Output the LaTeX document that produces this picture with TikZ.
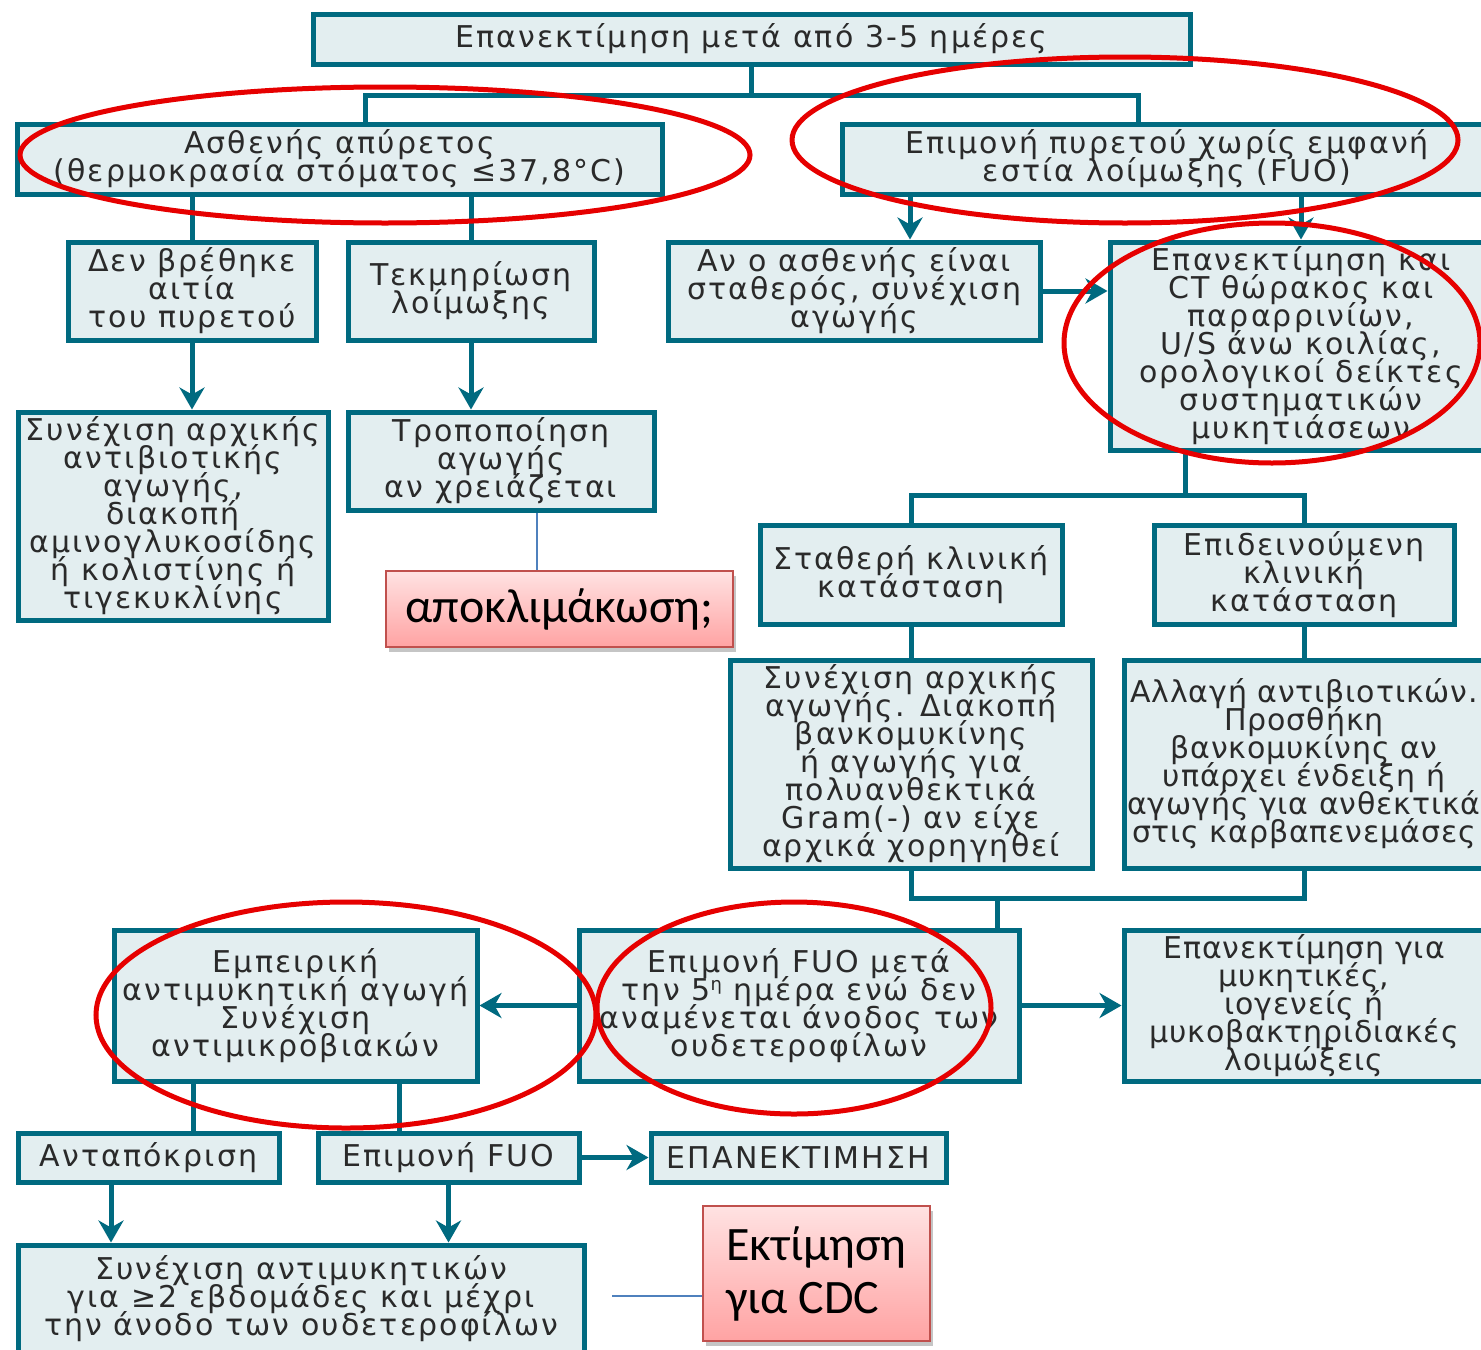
\documentclass[tikz,border=0pt]{standalone}
\usepackage{fontspec}
\setmainfont{DejaVu Sans}[LetterSpace=7]
\newfontfamily\calfont{Carlito}
\usetikzlibrary{arrows.meta,shadows}

\definecolor{tealline}{HTML}{006A80}
\definecolor{tealfill}{HTML}{E3EEF0}
\definecolor{inkgray}{HTML}{2A2A2A}
\definecolor{notetop}{HTML}{FFE2E2}
\definecolor{notebot}{HTML}{FFA3A3}
\definecolor{noteline}{HTML}{C0504D}
\definecolor{leaderblue}{HTML}{4F81BD}
\definecolor{ringred}{HTML}{E60000}

\newcommand\boxfont{\fontsize{15}{14}\selectfont\lineskiplimit=-\maxdimen}
\newcommand\snugfont{\boxfont\addfontfeatures{LetterSpace=3}}
\newcommand\notefont{\calfont\fontsize{24}{26.5}\selectfont}
% small raised ordinal mark
\newcommand\ordmark[1]{\raisebox{0.33em}{\fontsize{9}{9}\selectfont #1}}

\tikzset{
  % a box given by its left, top, right and bottom edges (in picture units)
  span/.style n args={4}{at={({(#1+#3)/2},{(#2+#4)/2})},
    minimum width={(#3-#1)*0.5pt}, minimum height={(#4-#2)*0.5pt}},
  tbox/.style={draw=tealline, fill=tealfill, line width=2.5pt, inner sep=0pt,
    align=center, text=inkgray, font=\boxfont},
  link/.style={draw=tealline, line width=2.5pt},
  arr/.style={link, -{Stealth[length=11pt,width=12.5pt,inset=3.5pt]}},
  note/.style={draw=noteline, line width=0.75pt, top color=notetop, bottom color=notebot,
    drop shadow={shadow xshift=1.5pt, shadow yshift=-2.5pt, fill=black!50, opacity=.45},
    inner sep=0pt, font=\notefont, text=black},
  leader/.style={draw=leaderblue, line width=0.6pt},
  ring/.style={draw=ringred, line width=2.5pt}
}

\begin{document}
\begin{tikzpicture}[x=0.5pt,y=-0.5pt]
\useasboundingbox (0,0) rectangle (1481,1349);
\fill[white] (0,0) rectangle (1481,1349);
\begin{scope}
\clip (0,0) rectangle (1481,1349);

% boxes of the flow chart
\node[tbox, span={313}{14}{1190}{64}] (top) {Επανεκτίμηση μετά από 3-5 ημέρες};
\node[tbox, span={17}{124}{662}{194}] (b3) {Ασθενής απύρετος\\(θερμοκρασία στόματος ≤37,8°C)};
\node[tbox, span={842}{124}{1492}{194}] (b4) {Επιμονή πυρετού χωρίς εμφανή\\εστία λοίμωξης (FUO)};
\node[tbox, span={68}{242}{316}{340}] (b5) {Δεν βρέθηκε\\αιτία\\του πυρετού};
\node[tbox, span={348}{242}{594}{340}] (b6) {Τεκμηρίωση\\λοίμωξης};
\node[tbox, span={668}{242}{1040}{340}] (b8) {Αν ο ασθενής είναι\\σταθερός, συνέχιση\\αγωγής};
\node[tbox, span={1110}{242}{1492}{450}] (b9) {Επανεκτίμηση και\\CT θώρακος και\\παραρρινίων,\\U/S άνω κοιλίας,\\ορολογικοί δείκτες\\συστηματικών\\μυκητιάσεων};
\node[tbox, span={18}{412}{328}{620}] (b13) {Συνέχιση αρχικής\\αντιβιοτικής\\αγωγής,\\διακοπή\\αμινογλυκοσίδης\\ή κολιστίνης ή\\τιγεκυκλίνης};
\node[tbox, span={348}{412}{654}{510}] (b14) {Τροποποίηση\\αγωγής\\αν χρειάζεται};
\node[tbox, span={760}{525}{1062}{624}] (b18) {Σταθερή κλινική\\κατάσταση};
\node[tbox, span={1154}{525}{1454}{624}] (b19) {Επιδεινούμενη\\κλινική\\κατάσταση};
\node[tbox, span={730}{660}{1092}{868}] (b21) {Συνέχιση αρχικής\\αγωγής. Διακοπή\\βανκομυκίνης\\ή αγωγής για\\πολυανθεκτικά\\Gram(-) αν είχε\\αρχικά χορηγηθεί};
\node[tbox, span={1124}{660}{1484}{868}, font=\snugfont] (b22) {Αλλαγή αντιβιοτικών.\\Προσθήκη\\βανκομυκίνης αν\\υπάρχει ένδειξη ή\\αγωγής για ανθεκτικά\\στις καρβαπενεμάσες};
\node[tbox, span={579}{930}{1019}{1081}] (b24) {Επιμονή FUO μετά\\την 5\ordmark{η} ημέρα ενώ δεν\\αναμένεται άνοδος των\\ουδετεροφίλων};
\node[tbox, span={114}{930}{477}{1081}] (b25) {Εμπειρική\\αντιμυκητική αγωγή\\Συνέχιση\\αντιμικροβιακών};
\node[tbox, span={1124}{930}{1484}{1081}, font=\snugfont] (b26) {Επανεκτίμηση για\\μυκητικές,\\ιογενείς ή\\μυκοβακτηριδιακές\\λοιμώξεις};
\node[tbox, span={18}{1133}{279}{1182}] (b29) {Ανταπόκριση};
\node[tbox, span={318}{1133}{579}{1182}] (b30) {Επιμονή FUO};
\node[tbox, span={651}{1133}{946}{1182}] (b31) {ΕΠΑΝΕΚΤΙΜΗΣΗ};
\node[tbox, span={18}{1245}{584}{1352}] (b34) {Συνέχιση αντιμυκητικών\\για ≥2 εβδομάδες και μέχρι\\την άνοδο των ουδετεροφίλων};

% pink notes
\node[note, span={386}{571}{733}{647}] (n1) {αποκλιμάκωση;};
\node[note, span={703}{1206}{930}{1341}, align=left] (n2) {Εκτίμηση\\για CDC};

% junction points
\coordinate (ja) at (365,95);
\coordinate (jb) at (1138,95);
\coordinate (jc) at (1185,495);
\coordinate (jd) at (997,898);
\coordinate (cdcfoot) at (612,1296);

% connectors
\draw[link] (top.south) -- (top.south |- ja);
\draw[link] (ja |- b3.north) -- (ja) -- (jb) -- (jb |- b4.north);
\draw[link] (b5.north |- b3.south) -- (b5.north);
\draw[link] (b6.north |- b3.south) -- (b6.north);
\draw[arr] (b4.south -| 910,0) -- (b8.north -| 910,0);
\draw[arr] (b9.north |- b4.south) -- (b9.north);
\draw[arr] (b8.east) -- (b8.east -| b9.west);
\draw[arr] (b5.south) -- (b5.south |- b13.north);
\draw[arr] (b6.south) -- (b6.south |- b14.north);
\draw[leader] (b14.south -| 537,0) -- (n1.north -| 537,0);
\draw[link] (b9.south -| jc) -- (jc);
\draw[link] (b18.north) -- (b18.north |- jc) -- (b19.north |- jc) -- (b19.north);
\draw[link] (b18.south) -- (b21.north);
\draw[link] (b19.south) -- (b22.north -| b19.south);
\draw[link] (b21.south) -- (b21.south |- jd) -- (b22.south |- jd) -- (b22.south);
\draw[link] (jd) -- (jd |- b24.north);
\draw[arr] (b24.west) -- (b24.west -| b25.east);
\draw[arr] (b24.east) -- (b24.east -| b26.west);
\draw[link] (b25.south -| 193,0) -- (b29.north -| 193,0);
\draw[link] (b25.south -| 399,0) -- (b30.north -| 399,0);
\draw[arr] (b30.east) -- (b31.west);
\draw[arr] (b29.south -| 111,0) -- (b34.north -| 111,0);
\draw[arr] (b30.south) -- (b30.south |- b34.north);
\draw[leader] (cdcfoot) -- (cdcfoot -| n2.west);

% red highlight rings
\draw[ring] (385,155) ellipse [x radius=182.5pt, y radius=34pt];
\draw[ring] (1125,140) ellipse [x radius=166.5pt, y radius=41.5pt];
\draw[ring] (1272,343) ellipse [x radius=104pt, y radius=60pt];
\draw[ring] (346,1015) ellipse [x radius=125pt, y radius=56.5pt];
\draw[ring] (794,1008) ellipse [x radius=98.5pt, y radius=53pt];
\end{scope}
\end{tikzpicture}
\end{document}
